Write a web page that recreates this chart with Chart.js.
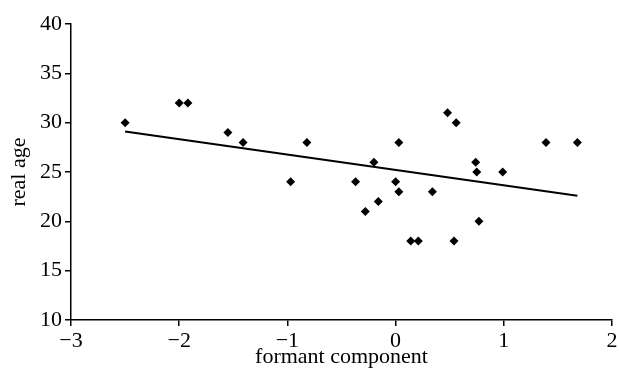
<!DOCTYPE html>
<html>
<head>
<meta charset="utf-8">
<script src="https://cdn.jsdelivr.net/npm/chart.js@4.4.1/dist/chart.umd.min.js"></script>
<style>
  html, body { margin: 0; padding: 0; background: #fff; }
  #wrap { width: 619px; height: 369px; }
</style>
</head>
<body>
<div id="wrap"><canvas id="chart" width="619" height="369"></canvas></div>
<script>
// data
const formant = [-2.5, -2.0, -1.92, -1.55, -1.41, -0.97, -0.82, -0.37, -0.28, -0.2, -0.16, 0.0, 0.03, 0.03,
                 0.14, 0.21, 0.34, 0.48, 0.54, 0.56, 0.74, 0.75, 0.77, 0.99, 1.39, 1.68];
const realAge = [30, 32, 32, 29, 28, 24, 28, 24, 21, 26, 22, 24, 23, 28,
                 18, 18, 23, 31, 18, 30, 26, 25, 20, 25, 28, 28];

// fitted line end points
const fitX = [-2.5, 1.68];
const fitY = [29.1, 22.6];

const xTicks = [-3, -2, -1, 0, 1, 2];
const yTicks = [10, 15, 20, 25, 30, 35, 40];

const serif = "'Liberation Serif', 'DejaVu Serif', serif";

const points = formant.map((x, i) => ({ x: x, y: realAge[i] }));
const fitLine = fitX.map((x, i) => ({ x: x, y: fitY[i] }));

new Chart(document.getElementById('chart'), {
    type: 'scatter',
    data: {
        datasets: [
            {
                label: 'data',
                data: points,
                pointStyle: 'rectRot',
                pointRadius: 4.5,
                backgroundColor: '#000',
                borderColor: '#000',
                borderWidth: 0
            },
            {
                label: 'fit',
                type: 'line',
                data: fitLine,
                borderColor: '#000',
                borderWidth: 2,
                pointRadius: 0,
                fill: false
            }
        ]
    },
    options: {
        responsive: false,
        animation: false,
        layout: { padding: { top: 24, right: 7, left: 0, bottom: 0 } },
        plugins: { legend: { display: false }, tooltip: { enabled: false } },
        scales: {
            x: {
                type: 'linear',
                min: -3, max: 2,
                afterBuildTicks: ax => { ax.ticks = xTicks.map(v => ({ value: v })); },
                afterFit: ax => { ax.height = 49; ax.paddingRight = 0; ax.paddingLeft = 0; },
                border: { color: '#000', width: 1.5 },
                grid: { drawOnChartArea: false, drawTicks: true, tickLength: 6, color: '#000', lineWidth: 1.5 },
                ticks: {
                    color: '#000',
                    font: { family: serif, size: 22 },
                    padding: 2,
                    maxRotation: 0,
                    callback: v => (v < 0 ? '\u2212' + Math.abs(v) : String(v))
                },
                title: {
                    display: true,
                    text: 'formant component',
                    color: '#000',
                    font: { family: serif, size: 22, lineHeight: 1.1 },
                    padding: { top: 0, bottom: 0 }
                }
            },
            y: {
                type: 'linear',
                min: 10, max: 40,
                afterBuildTicks: ax => { ax.ticks = yTicks.map(v => ({ value: v })); },
                afterFit: ax => { ax.width = 71; },
                border: { color: '#000', width: 1.5 },
                grid: { drawOnChartArea: false, drawTicks: true, tickLength: 6, color: '#000', lineWidth: 1.5 },
                ticks: {
                    color: '#000',
                    font: { family: serif, size: 22 },
                    padding: 3
                },
                title: {
                    display: true,
                    text: 'real age',
                    color: '#000',
                    font: { family: serif, size: 22, lineHeight: 1.1 },
                    padding: { top: 7, bottom: 0 }
                }
            }
        }
    }
});
</script>
</body>
</html>
